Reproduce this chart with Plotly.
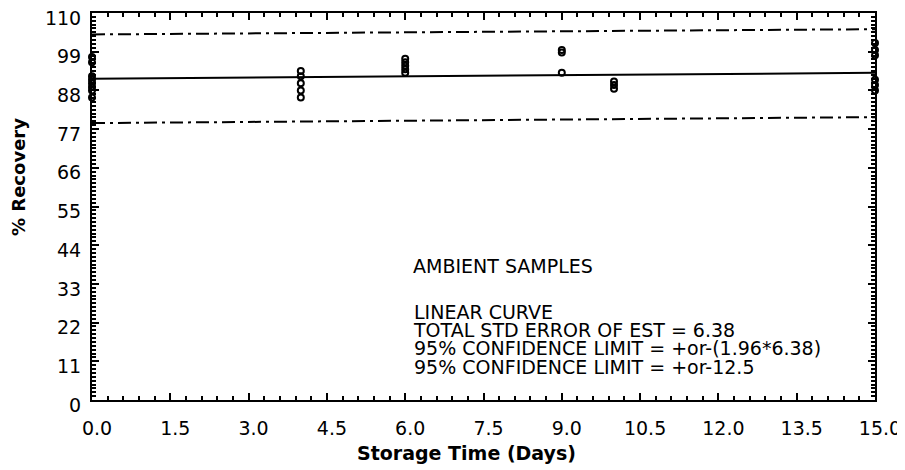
import plotly.graph_objects as go

# Data
day0 = [97.5, 96.0, 92.0, 91.0, 90.0, 89.0, 88.0, 86.0]
day4 = [93.5, 92.0, 90.0, 88.0, 86.0]
day6 = [97.0, 96.0, 95.0, 94.0, 93.0]
day9 = [99.5, 98.8, 93.0]
day10 = [90.5, 89.5, 88.5]
day15 = [101.5, 99.5, 98.0, 91.0, 89.5, 88.0]

fit_x = [0, 15]
fit_y = [91.3, 93.0]
upper_y = [103.9, 105.4]
lower_y = [78.7, 80.4]

x_ticks = [0.0, 1.5, 3.0, 4.5, 6.0, 7.5, 9.0, 10.5, 12.0, 13.5, 15.0]
y_ticks = [0, 11, 22, 33, 44, 55, 66, 77, 88, 99, 110]

x_title = "Storage Time (Days)"
y_title = "% Recovery"
heading = "AMBIENT SAMPLES"
notes = [
    "LINEAR CURVE",
    "TOTAL STD ERROR OF EST = 6.38",
    "95% CONFIDENCE LIMIT = +or-(1.96*6.38)",
    "95% CONFIDENCE LIMIT = +or-12.5",
]

FONT = "DejaVu Sans, Arial, sans-serif"
OFF = 8  # page body margin
L, R, T, B = 92, 875, 13, 400  # target plot box in screenshot pixels


def xp(pix):
    return (pix - L) / (R - L)


def yp(pix):
    return (B - pix) / (B - T)


px, py = [], []
for d, vals in [(0, day0), (4, day4), (6, day6), (9, day9), (10, day10), (15, day15)]:
    px += [d] * len(vals)
    py += vals

fig = go.Figure()
fig.add_trace(go.Scatter(x=fit_x, y=upper_y, mode="lines",
                         line=dict(color="black", width=2, dash="13px,5px,3px,5px")))
fig.add_trace(go.Scatter(x=fit_x, y=lower_y, mode="lines",
                         line=dict(color="black", width=2, dash="13px,5px,3px,5px")))
fig.add_trace(go.Scatter(x=fit_x, y=fit_y, mode="lines",
                         line=dict(color="black", width=2)))
fig.add_trace(go.Scatter(x=px, y=py, mode="markers", cliponaxis=False,
                         marker=dict(symbol="circle-open", size=6, color="black",
                                     line=dict(width=2, color="black"))))

fig.add_annotation(text=heading, xref="paper", yref="paper",
                   x=xp(412), y=yp(266), borderpad=0,
                   xanchor="left", yanchor="middle", align="left",
                   showarrow=False, font=dict(family=FONT, size=19, color="black"))
# one block; base size 14 gives ~18px line spacing, spans carry the visible size
block = "<br>".join('<span style="font-size:19px">' + s + "</span>" for s in notes)
fig.add_annotation(text=block, xref="paper", yref="paper",
                   x=xp(412), y=yp(339), borderpad=0,
                   xanchor="left", yanchor="middle", align="left",
                   showarrow=False, font=dict(family=FONT, size=14, color="black"))

fig.add_annotation(text="<b>" + x_title + "</b>", xref="paper", yref="paper",
                   x=xp(466), y=yp(453), xanchor="center", yanchor="middle",
                   showarrow=False, font=dict(family=FONT, size=19, color="black"))
fig.add_annotation(text="<b>" + y_title + "</b>", xref="paper", yref="paper",
                   x=xp(18), y=yp(177), xanchor="center", yanchor="middle",
                   textangle=-90, showarrow=False,
                   font=dict(family=FONT, size=18, color="black"))

fig.update_layout(
    width=905, height=470,
    margin=dict(l=L - OFF, r=905 - (R - OFF), t=T - OFF, b=470 - (B - OFF)),
    paper_bgcolor="white", plot_bgcolor="white",
    showlegend=False,
    font=dict(family=FONT, size=19, color="black"),
)
fig.update_xaxes(
    range=[0, 15], tickvals=x_ticks, ticktext=[f"{v:.1f}" for v in x_ticks],
    automargin=False, ticklabeloverflow="allow",
    showgrid=False, zeroline=False, showline=True, linecolor="black", linewidth=2,
    mirror="allticks", ticks="inside", ticklen=7, tickcolor="black", tickwidth=2,
    minor=dict(dtick=0.3, ticks="inside", ticklen=4, tickcolor="black", tickwidth=1.5),
    ticklabelstandoff=10, ticklabelshift=5,
    tickfont=dict(family=FONT, size=19),
)
fig.update_yaxes(
    range=[0, 110], tickvals=y_ticks,
    automargin=False, ticklabeloverflow="allow",
    showgrid=False, zeroline=False, showline=True, linecolor="black", linewidth=2,
    mirror="allticks", ticks="inside", ticklen=7, tickcolor="black", tickwidth=2,
    minor=dict(dtick=1.1, ticks="inside", ticklen=4, tickcolor="black", tickwidth=1.5),
    ticklabelstandoff=5, ticklabelshift=5,
    tickfont=dict(family=FONT, size=19),
)

fig.write_html("out.html")
